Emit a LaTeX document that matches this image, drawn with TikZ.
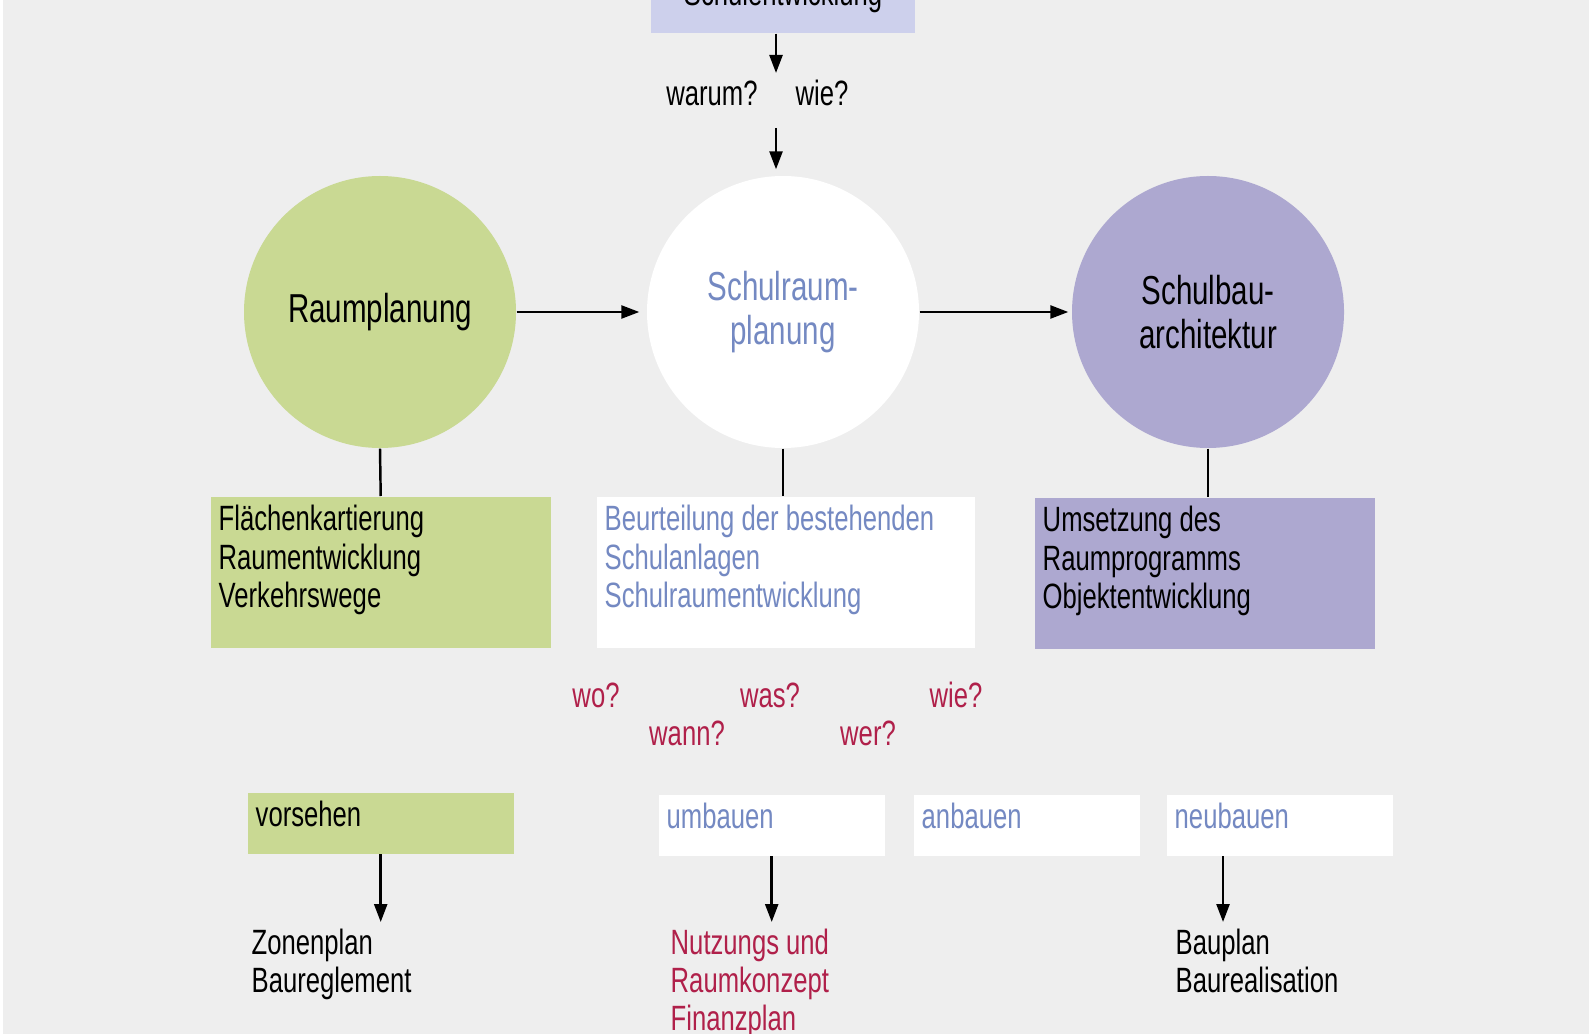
\documentclass[tikz,border=0pt]{standalone}
\usepackage{fontspec}
\setmainfont{Liberation Sans}[FakeStretch=0.73]
\usepackage{tikz}
\usetikzlibrary{shapes,arrows.meta,positioning,calc}

\definecolor{bggray}{HTML}{EEEEEE}
\definecolor{leafgreen}{HTML}{C9D993}
\definecolor{lilac}{HTML}{ADA8D0}
\definecolor{paleblue}{HTML}{CDD0EC}
\definecolor{textblue}{HTML}{7489C2}
\definecolor{textred}{HTML}{B0204A}

\begin{document}
\begin{tikzpicture}[
    font=\fontsize{10}{10.9}\selectfont,
    circ/.style={circle, minimum size=2.72cm, inner sep=0pt, align=center, font=\fontsize{11.5}{12.5}\selectfont},
    infobox/.style={anchor=north west, inner xsep=0.08cm, inner ysep=0.05cm, text width=3.24cm, text height=0.29cm, text depth=1.12cm, align=flush left},
    tagbox/.style={anchor=north west, inner xsep=0.08cm, inner ysep=0.05cm, text height=0.29cm, text depth=0.22cm, align=flush left},
    ask/.style={anchor=base, text=textred},
    result/.style={anchor=north west, align=left, inner sep=0.06cm},
    arrow/.style={-{Triangle[length=0.18cm,width=0.13cm]}, line width=0.7pt},
    link/.style={line width=0.7pt}
]

% Background
\useasboundingbox (0,0) rectangle (15.89,10.33);
\fill[white] (-0.1,-0.1) rectangle (16,10.5);
\fill[bggray] (0.03,-0.1) rectangle (16,10.5);

% Top
\node (entw) at (7.83,10.27) [anchor=base, fill=paleblue, minimum width=2.64cm, inner ysep=0.05cm, text depth=0.22cm] {Schulentwicklung};
\coordinate (qtop) at (7.76,9.60);
\coordinate (qbot) at (7.76,9.05);
\node (warum) at (7.12,9.27) [anchor=base] {warum?};
\node (wie) at (8.22,9.27) [anchor=base] {wie?};

% Circles
\node (raum) at (3.80,7.21) [circ, fill=leafgreen] {Raumplanung};
\node (schulraum) at (7.83,7.21) [circ, fill=white, text=textblue] {Schulraum-\\planung};
\node (schulbau) at (12.08,7.21) [circ, fill=lilac] {Schulbau-\\architektur};

% Boxes
\node (flaechen) at (2.10,5.37) [infobox, fill=leafgreen] {Flächenkartierung\\Raumentwicklung\\Verkehrswege};
\node (beurteil) at (5.96,5.37) [infobox, fill=white, text=textblue, text width=3.62cm] {Beurteilung der bestehenden\\Schulanlagen\\Schulraumentwicklung};
\node (umsetz) at (10.34,5.36) [infobox, fill=lilac] {Umsetzung des\\Raumprogramms\\Objektentwicklung};

% Questions
\node (wo) at (5.96,3.26) [ask] {wo?};
\node (was) at (7.70,3.26) [ask] {was?};
\node (wie2) at (9.56,3.26) [ask] {wie?};
\node (wann) at (6.87,2.88) [ask] {wann?};
\node (wer) at (8.68,2.88) [ask] {wer?};

% Actions
\node (vorsehen) at (2.47,2.41) [tagbox, fill=leafgreen, text width=2.50cm] {vorsehen};
\node (umbauen) at (6.58,2.39) [tagbox, fill=white, text=textblue, text width=2.10cm] {umbauen};
\node (anbauen) at (9.13,2.39) [tagbox, fill=white, text=textblue, text width=2.10cm] {anbauen};
\node (neubauen) at (11.66,2.39) [tagbox, fill=white, text=textblue, text width=2.10cm] {neubauen};

% Results
\node (zonen) at (2.45,1.11) [result] {Zonenplan\\Baureglement};
\node (nutzung) at (6.64,1.11) [result, text=textred] {Nutzungs und\\Raumkonzept\\Finanzplan};
\node (bauplan) at (11.69,1.11) [result] {Bauplan\\Baurealisation};

% Connectors
\draw[arrow] (qtop |- entw.south) -- (qtop);
\draw[arrow, shorten >=0.06cm] (qbot) -- (qbot |- schulraum.north);
\draw[arrow, shorten >=0.07cm] (raum.east) -- (schulraum.west);
\draw[arrow, shorten >=0.03cm] (schulraum.east) -- (schulbau.west);
\draw[link] (raum.south) -- (flaechen.north);
\draw[link] (schulraum.south) -- (schulraum.south |- beurteil.north);
\draw[link] (schulbau.south) -- (schulbau.south |- umsetz.north);
\coordinate (nbfoot) at ($(neubauen.south west)+(0.57,0)$);
\draw[arrow] (vorsehen.south) -- (vorsehen.south |- zonen.north);
\draw[arrow] (umbauen.south) -- (umbauen.south |- nutzung.north);
\draw[arrow] (nbfoot) -- (nbfoot |- bauplan.north);

\end{tikzpicture}
\end{document}
